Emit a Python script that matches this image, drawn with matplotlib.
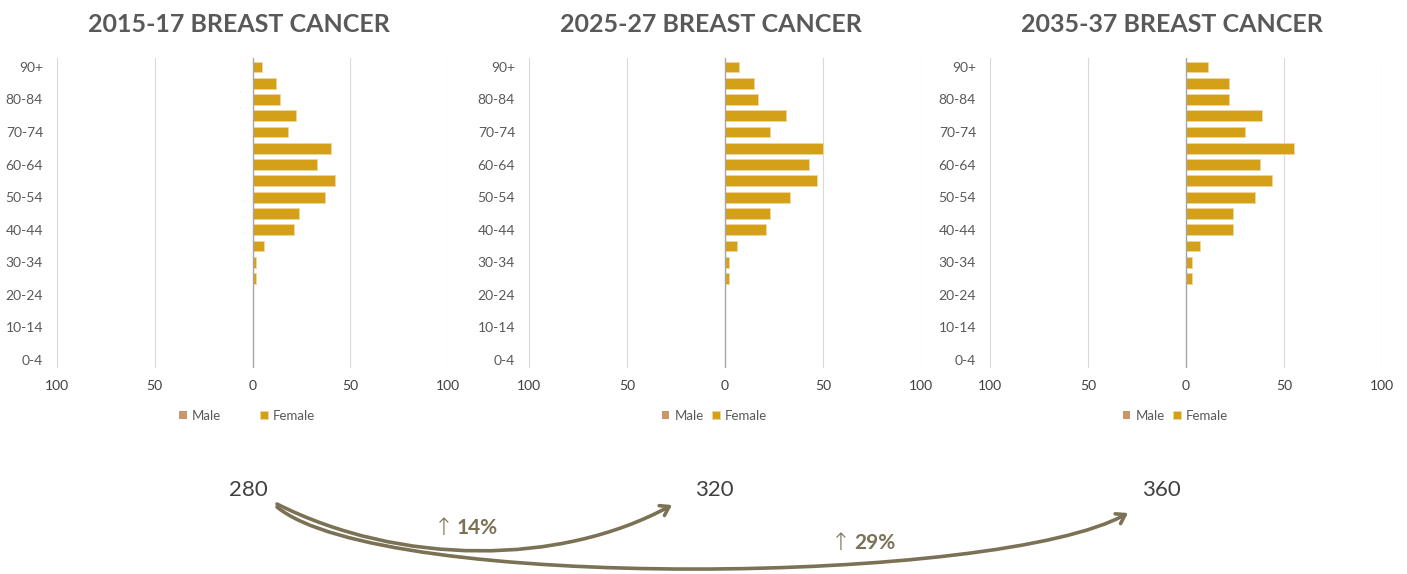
import matplotlib
matplotlib.use("Agg")
import matplotlib.pyplot as plt
from matplotlib.patches import FancyArrowPatch
from matplotlib.path import Path

plt.rcParams['font.family'] = ['Lato', 'DejaVu Sans']

age_groups = ["0-4", "5-9", "10-14", "15-19", "20-24", "25-29", "30-34", "35-39",
              "40-44", "45-49", "50-54", "55-59", "60-64", "65-69", "70-74",
              "75-79", "80-84", "85-89", "90+"]

periods = ["2015-17", "2025-27", "2035-37"]

male_1517 = [0] * 19
female_1517 = [0, 0, 0, 0, 0, 2, 2, 6, 21, 24, 37, 42, 33, 40, 18, 22, 14, 12, 5]
male_2527 = [0] * 19
female_2527 = [0, 0, 0, 0, 0, 2, 2, 6, 21, 23, 33, 47, 43, 50, 23, 31, 17, 15, 7]
male_3537 = [0] * 19
female_3537 = [0, 0, 0, 0, 0, 3, 3, 7, 24, 24, 35, 44, 38, 55, 30, 39, 22, 22, 11]

totals = [280, 320, 360]
changes = ["14%", "29%"]

male_c = "#C9976B"
female_c = "#D4A017"
grey_txt = "#595959"
arrow_c = "#7B7256"

W, H = 1407, 574
fig = plt.figure(figsize=(W / 100, H / 100), dpi=100)

# axes boxes in pixels: left, right
boxes = [(57, 448), (529, 921), (990, 1382)]
legend_gap = [2.9, 0.6, 0.6]
legend_x = [0.486, 0.473, 0.473]
top_px, bot_px = 58, 368

panels = [(male_1517, female_1517), (male_2527, female_2527), (male_3537, female_3537)]

for (l, r), (male, female), gap, lx in zip(boxes, panels, legend_gap, legend_x):
    ax = fig.add_axes([l / W, 1 - bot_px / H, (r - l) / W, (bot_px - top_px) / H])
    y = range(len(age_groups))
    ax.barh(y, [-m for m in male], height=0.66, color=male_c, label="Male")
    ax.barh(y, female, height=0.66, color=female_c, edgecolor="#EED79A",
            linewidth=0.6, label="Female", zorder=3)
    ax.set_xlim(-100, 100)
    ax.set_ylim(-0.5, 18.55)
    for gx in (-100, -50, 50, 100):
        ax.axvline(gx, color="#D9D9D9", lw=0.8, zorder=0)
    ax.axvline(0, color="#A6A6A6", lw=1.0, zorder=4)
    for s in ax.spines.values():
        s.set_visible(False)
    ax.set_xticks([-100, -50, 0, 50, 100])
    ax.set_xticklabels(["100", "50", "0", "50", "100"], fontsize=10, color="#404040")
    ax.set_yticks(list(range(0, 19, 2)))
    ax.set_yticklabels(age_groups[::2], fontsize=10, color=grey_txt)
    ax.tick_params(axis="both", length=0)
    ax.tick_params(axis="y", pad=10)
    ax.tick_params(axis="x", pad=9)
    ax.legend(loc="center", bbox_to_anchor=(lx, -0.154), ncol=2, frameon=False,
              fontsize=9.5, handlelength=0.6, handleheight=0.6, handletextpad=0.4,
              columnspacing=gap, labelcolor=grey_txt)

# overlay for titles, totals and arrows
ov = fig.add_axes([0, 0, 1, 1], zorder=10)
ov.set_xlim(0, W)
ov.set_ylim(H, 0)
ov.axis("off")

title_x = [239, 711, 1172]
for x, p in zip(title_x, periods):
    ov.text(x, 25, f"{p} BREAST CANCER", ha="center", va="center", fontsize=18,
            fontweight="bold", color=grey_txt)

total_x = [248, 714, 1161]
for x, t in zip(total_x, totals):
    ov.text(x, 490, str(t), ha="center", va="center", fontsize=16, color="#404040")

curves = [
    [(277, 504), (400, 566), (560, 566), (672, 505)],
    [(277, 507), (380, 592), (1000, 585), (1128, 513)],
]
for pts in curves:
    path = Path(pts, [Path.MOVETO, Path.CURVE4, Path.CURVE4, Path.CURVE4])
    ov.add_patch(FancyArrowPatch(path=path, arrowstyle="->,head_length=6,head_width=4",
                                 color=arrow_c, lw=2.6, capstyle="round"))

label_pos = [(444, 528), (841, 543)]
for (x, yy), c in zip(label_pos, changes):
    ov.text(x, yy, "\u2191", ha="center", va="center", fontsize=17,
            color=arrow_c, family=["DejaVu Sans"], fontweight="light")
    ov.text(x + 13, yy, c, ha="left", va="center", fontsize=15,
            fontweight="bold", color=arrow_c)

fig.savefig("out.png", dpi=100, facecolor="white")
